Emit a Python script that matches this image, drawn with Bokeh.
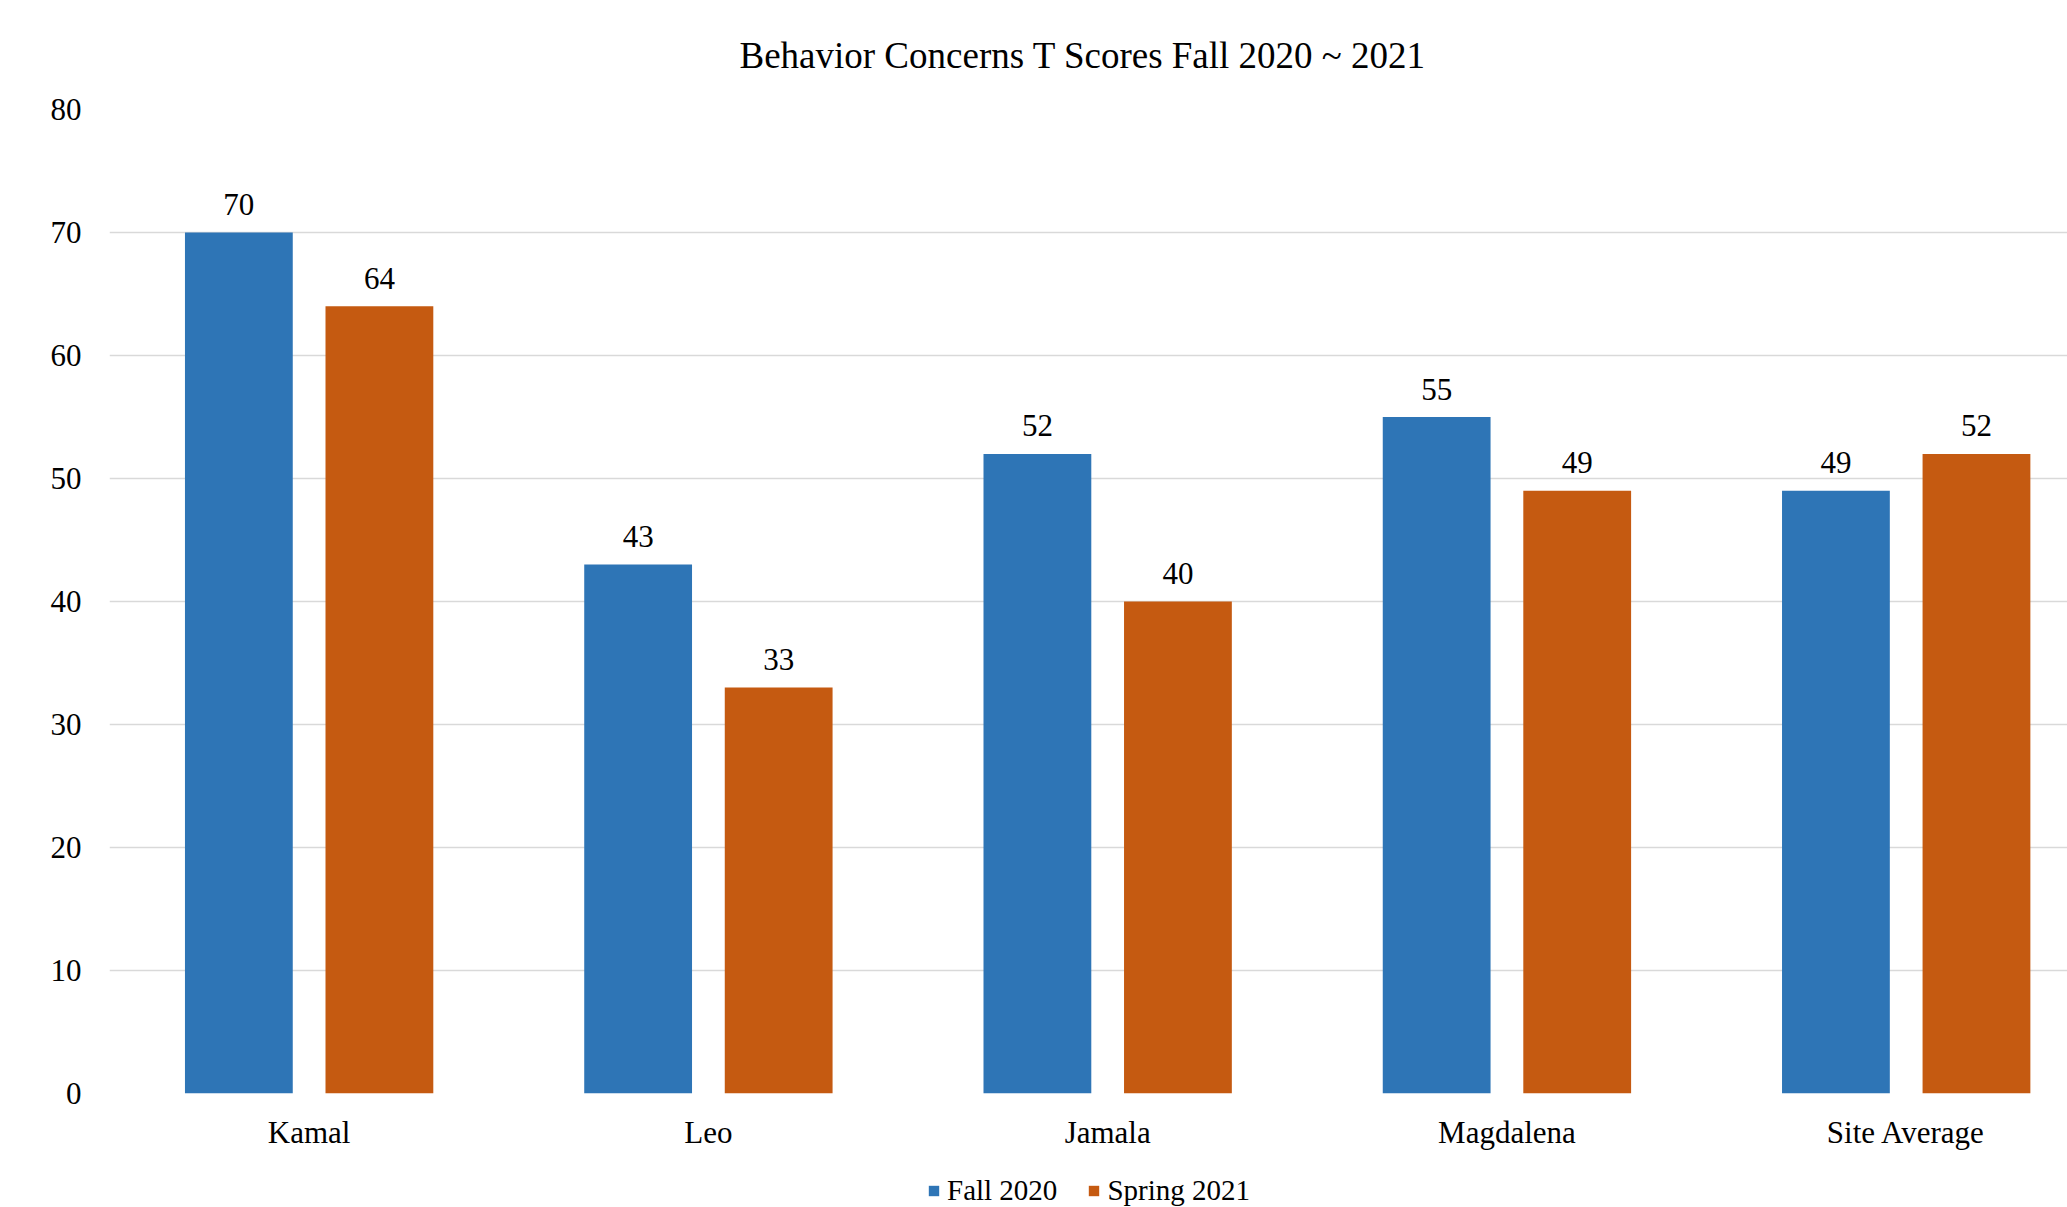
import numpy as np
from bokeh.plotting import figure
from bokeh.layouts import column
from bokeh.models import (Range1d, FixedTicker, Legend, LegendItem, Title,
                          ColumnDataSource)
from bokeh.core.properties import value
from bokeh.embed import file_html
from bokeh.resources import INLINE

categories = ["Kamal", "Leo", "Jamala", "Magdalena", "Site Average"]
fall_2020 = [70, 43, 52, 55, 49]
spring_2021 = [64, 33, 40, 49, 52]
series_names = ["Fall 2020", "Spring 2021"]
y_ticks = [0, 10, 20, 30, 40, 50, 60, 70, 80]
title_text = "Behavior Concerns T Scores Fall 2020 ~ 2021"

BLUE = "#2E75B6"
ORANGE = "#C55A11"
FONT = "Liberation Serif"

centers = np.arange(len(categories)) + 0.5
bar_w = 0.27
dodge = 0.176

p = figure(width=2067, height=1152,
           x_range=Range1d(0, 4.904), y_range=Range1d(0, 80),
           output_backend="svg", toolbar_location=None,
           min_border_left=109, min_border_right=0,
           min_border_top=108, min_border_bottom=57)
p.outline_line_color = None
p.background_fill_color = "white"
p.border_fill_color = "white"

src_f = ColumnDataSource(dict(x=centers - dodge, top=fall_2020,
                              lbl=[str(v) for v in fall_2020]))
src_s = ColumnDataSource(dict(x=centers + dodge, top=spring_2021,
                              lbl=[str(v) for v in spring_2021]))

p.vbar(x="x", top="top", width=bar_w, bottom=0, source=src_f,
       fill_color=BLUE, line_color=None)
p.vbar(x="x", top="top", width=bar_w, bottom=0, source=src_s,
       fill_color=ORANGE, line_color=None)

for src in (src_f, src_s):
    p.text(x="x", y="top", text="lbl", source=src, y_offset=-28,
           text_align="center", text_baseline="middle",
           text_font=value(FONT), text_font_size="31px", text_color="black")

# axes
p.xaxis.ticker = FixedTicker(ticks=list(centers))
p.xaxis.major_label_overrides = {float(c): n for c, n in zip(centers, categories)}
p.xaxis.axis_line_color = None
p.xaxis.major_tick_line_color = None
p.xaxis.minor_tick_line_color = None
p.xaxis.major_tick_out = 0
p.xaxis.major_tick_in = 0
p.xaxis.major_label_text_font = FONT
p.xaxis.major_label_text_font_size = "31px"
p.xaxis.major_label_text_color = "black"
p.xaxis.major_label_standoff = 21

p.yaxis.ticker = FixedTicker(ticks=y_ticks)
p.yaxis.axis_line_color = None
p.yaxis.major_tick_line_color = None
p.yaxis.minor_tick_line_color = None
p.yaxis.major_tick_out = 0
p.yaxis.major_tick_in = 0
p.yaxis.major_label_text_font = FONT
p.yaxis.major_label_text_font_size = "31px"
p.yaxis.major_label_text_color = "black"
p.yaxis.major_label_standoff = 28

p.xgrid.grid_line_color = None
p.ygrid.ticker = FixedTicker(ticks=y_ticks)
p.ygrid.grid_line_color = "#D9D9D9"
p.ygrid.grid_line_width = 1.5

# title
p.title = Title(text=title_text, align="left", offset=630,
                vertical_align="middle", standoff=66,
                text_font=FONT, text_font_size="37px",
                text_font_style="normal", text_color="black")

# legend strip (separate figure so the legend is not clipped); its ranges
# keep the proxy bars far out of view, only the legend swatches show
leg = figure(width=2067, height=55, x_range=Range1d(1000, 1001),
             y_range=Range1d(1000, 1001),
             output_backend="svg", toolbar_location=None,
             x_axis_location=None, y_axis_location=None, min_border=0)
leg.outline_line_color = None
leg.grid.visible = False
leg.background_fill_color = "white"
leg.border_fill_color = "white"
lr1 = leg.vbar(x="x", top="top", width=bar_w, bottom=0, source=src_f,
               fill_color=BLUE, line_color=None)
lr2 = leg.vbar(x="x", top="top", width=bar_w, bottom=0, source=src_s,
               fill_color=ORANGE, line_color=None)

legend = Legend(items=[LegendItem(label=series_names[0], renderers=[lr1]),
                       LegendItem(label=series_names[1], renderers=[lr2])],
                orientation="horizontal", location=(818, 0),
                glyph_width=13, glyph_height=13, label_standoff=7, spacing=30,
                label_text_font=FONT, label_text_font_size="29px",
                label_text_color="black", border_line_color=None,
                background_fill_alpha=0, padding=0, margin=0)
leg.add_layout(legend, "center")

layout = column(p, leg, spacing=0)
open("out.html", "w").write(file_html(layout, INLINE))
